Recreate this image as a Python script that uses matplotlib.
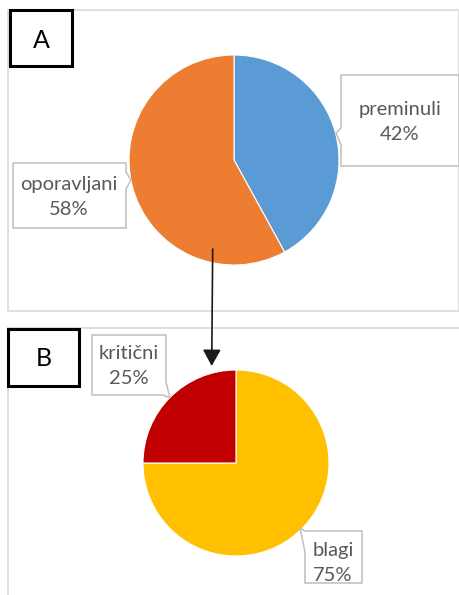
import matplotlib
matplotlib.use("Agg")
import matplotlib.pyplot as plt
from matplotlib.patches import Rectangle, Polygon, FancyArrowPatch

# ---- data ----
a_labels = ["preminuli", "oporavljani"]
a_values = [42, 58]
a_colors = ["#5B9BD5", "#ED7D31"]

b_labels = ["blagi", "kritični"]
b_values = [75, 25]
b_colors = ["#FFC000", "#C00000"]

W, H = 460, 595
fig = plt.figure(figsize=(W / 100, H / 100), dpi=100)
fig.patch.set_facecolor("white")

FONT = ["Lato", "DejaVu Sans"]
TXT = "#595959"
BOXC = "#BFBFBF"


def px_axes(x0, y0, x1, y1, **kw):
    return fig.add_axes([x0 / W, 1 - y1 / H, (x1 - x0) / W, (y1 - y0) / H], **kw)


# pies
axA = px_axes(129, 55, 339, 265)
axA.pie(a_values, colors=a_colors, startangle=90, counterclock=False,
        radius=1.0, wedgeprops=dict(linewidth=0.8, edgecolor="white"))
axA.set_xlim(-1, 1); axA.set_ylim(-1, 1); axA.axis("off")

axB = px_axes(143, 370, 329, 556)
axB.pie(b_values, colors=b_colors, startangle=90, counterclock=False,
        radius=1.0, wedgeprops=dict(linewidth=0.8, edgecolor="white"))
axB.set_xlim(-1, 1); axB.set_ylim(-1, 1); axB.axis("off")

# overlay in pixel coordinates
ov = fig.add_axes([0, 0, 1, 1], zorder=5)
ov.set_xlim(0, W); ov.set_ylim(H, 0); ov.axis("off"); ov.patch.set_alpha(0)

bg = fig.add_axes([0, 0, 1, 1], zorder=-5)
bg.set_xlim(0, W); bg.set_ylim(H, 0); bg.axis("off")
# panel borders
bg.add_patch(Rectangle((8, 10), 451, 301, fill=False, edgecolor="#D9D9D9", lw=1.2))
bg.plot([8, 460], [328, 328], color="#D9D9D9", lw=1.2)
bg.plot([8, 8], [328, 600], color="#D9D9D9", lw=1.2)

# panel letter boxes
ov.add_patch(Rectangle((10, 10), 62, 56, fill=True, facecolor="white", edgecolor="black", lw=2.2))
ov.text(41, 40, "A", ha="center", va="center", fontsize=18, family=FONT, color="black")
ov.add_patch(Rectangle((8, 329), 71, 57, fill=True, facecolor="white", edgecolor="black", lw=2.2))
ov.text(43.5, 359, "B", ha="center", va="center", fontsize=18, family=FONT, color="black")


def callout(pts, cx, cy, name, val):
    ov.add_patch(Polygon(pts, closed=True, facecolor="white", edgecolor=BOXC, lw=1.1))
    ov.text(cx, cy, f"{name}\n{val}%", ha="center", va="center", fontsize=14.5,
            family=FONT, color=TXT, linespacing=1.55)


# preminuli (notch on left edge)
callout([(341, 75), (459, 75), (459, 166), (341, 166), (341, 145), (336, 133), (341, 128)],
        400, 122, a_labels[0], a_values[0])
# oporavljani (notch on right edge)
callout([(13, 163), (126, 163), (126, 172), (131, 180), (126, 189), (126, 228), (13, 228)],
        69, 197, a_labels[1], a_values[1])
# kriticni (notch toward lower right)
callout([(92, 335), (166, 335), (166, 382), (170, 398), (163, 395), (92, 395)],
        129, 366, b_labels[1], b_values[1])
# blagi (notch on left edge)
callout([(305, 531), (362, 531), (362, 583), (305, 583), (305, 552), (300, 528)],
        333, 563, b_labels[0], b_values[0])

# arrow from A to B
ov.add_patch(FancyArrowPatch((212.7, 249), (211.7, 366), arrowstyle="-|>,head_length=10,head_width=5.5",
                             mutation_scale=1, color="#1a1a1a", lw=1.2, shrinkA=0, shrinkB=0))

fig.savefig("out.png", dpi=100, facecolor="white")
